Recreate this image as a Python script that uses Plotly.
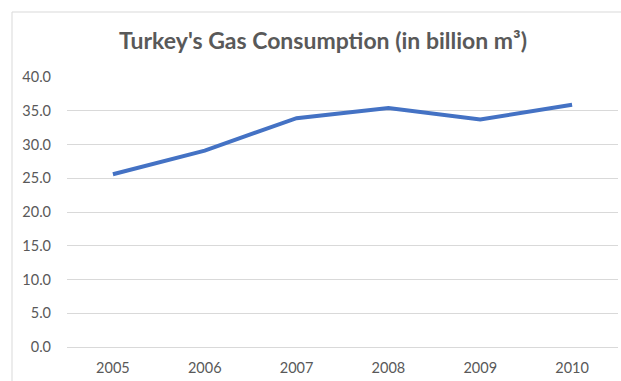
import plotly.graph_objects as go

# Turkey's natural gas consumption, billion cubic metres
years = ["2005", "2006", "2007", "2008", "2009", "2010"]
consumption = [25.6, 29.1, 33.9, 35.4, 33.7, 35.9]
y_ticks = [0, 5, 10, 15, 20, 25, 30, 35, 40]
y_tick_labels = ["0.0", "5.0", "10.0", "15.0", "20.0", "25.0", "30.0", "35.0", "40.0"]

W, H = 621, 381
L, R, T, B = 67, 3, 77, 34
plot_w = W - L - R
plot_h = H - T - B

text_grey = "#595959"
grid_grey = "#d9d9d9"
font_family = "Lato, 'Open Sans', sans-serif"

fig = go.Figure(
    go.Scatter(
        x=years,
        y=consumption,
        mode="lines",
        line=dict(color="#4472C4", width=4),
        hoverinfo="x+y",
    )
)

# outer chart frame (light grey box running off the right and bottom edges)
fig.add_shape(
    type="rect",
    xref="paper", yref="paper",
    x0=(12 - L) / plot_w, x1=(W + 10 - L) / plot_w,
    y0=-(B + 10) / plot_h, y1=(H - B - 12) / plot_h,
    line=dict(color=grid_grey, width=1),
    fillcolor="rgba(0,0,0,0)",
    layer="below",
)

fig.update_layout(
    width=W, height=H,
    margin=dict(l=L, r=R, t=T, b=B),
    paper_bgcolor="white",
    plot_bgcolor="white",
    showlegend=False,
    font=dict(family=font_family, color=text_grey, size=14.5),
    title=dict(
        text="<b>Turkey's Gas Consumption (in billion m³)</b>",
        x=323 / W, xanchor="center",
        y=1 - 41 / H, yanchor="middle",
        font=dict(family=font_family, size=23, color=text_grey),
    ),
    xaxis=dict(
        type="category",
        range=[-0.5, 5.5],
        showgrid=False,
        zeroline=False,
        showline=False,
        ticks="",
        ticklabelstandoff=10,
        tickfont=dict(size=14.5, color=text_grey),
        fixedrange=True,
    ),
    yaxis=dict(
        range=[0, 40],
        tickvals=y_ticks,
        ticktext=y_tick_labels,
        showgrid=True,
        gridcolor=grid_grey,
        gridwidth=1,
        zeroline=True,
        zerolinecolor=grid_grey,
        zerolinewidth=1,
        showline=False,
        ticks="",
        ticklabelstandoff=15,
        tickfont=dict(size=14.5, color=text_grey),
        fixedrange=True,
    ),
)

fig.write_html("out.html", config={"displayModeBar": False})
